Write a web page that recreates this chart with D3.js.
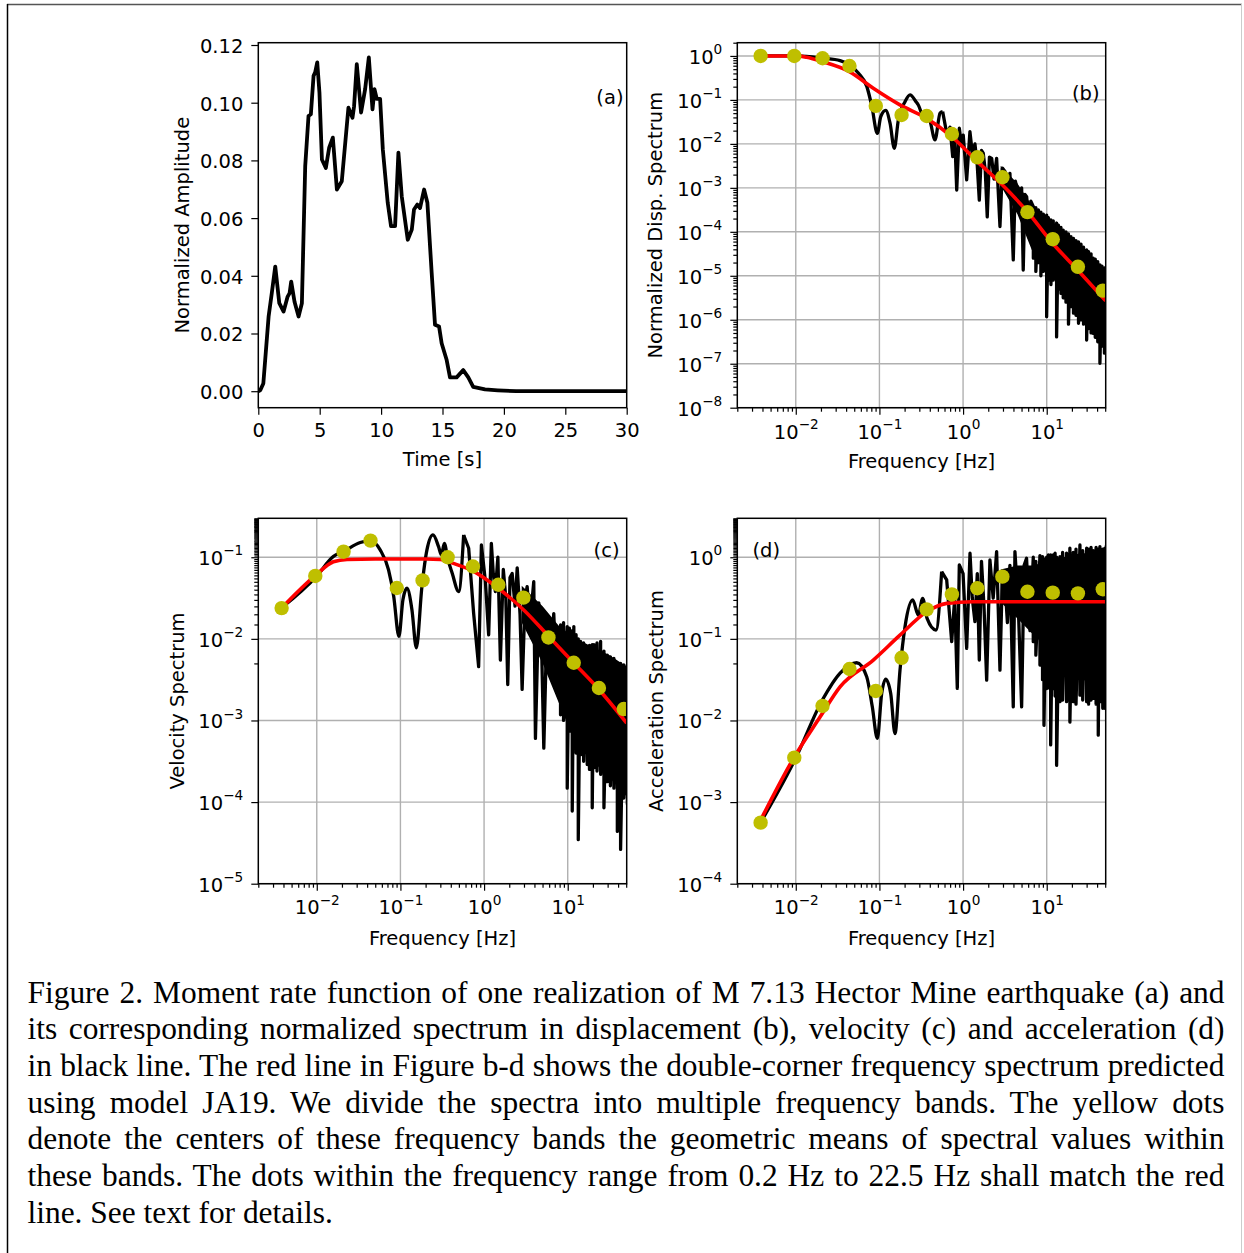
<!DOCTYPE html>
<html><head><meta charset="utf-8">
<script src="https://cdn.jsdelivr.net/npm/d3@7/dist/d3.min.js"></script>
<style>
html,body{margin:0;padding:0;background:#fff;}
#wrap{position:relative;width:1244px;height:1253px;overflow:hidden;background:#fff;}
#chart{position:absolute;left:0;top:0;}
svg text{font-family:"DejaVu Sans",sans-serif;font-size:19.5px;fill:#000;}
#caption{position:absolute;left:27.5px;width:1197px;font-family:"Liberation Serif","Times New Roman",serif;font-size:32px;line-height:36.7px;color:#000;}
#caption .ln{text-align:justify;text-align-last:justify;}
#caption .ln.last{text-align-last:left;}
</style></head><body>
<div id="wrap"><svg id="chart" width="1244" height="1253"></svg><div id="caption"></div></div>
<script>
// ================= DATA =================
// (a) moment rate function
const timeS = [0,0.16,0.41,0.84,1.1,1.38,1.71,2.06,2.39,2.55,2.68,2.95,3.28,3.55,3.82,4.09,4.28,4.5,4.63,4.8,4.98,5.18,5.5,5.77,6.07,6.4,6.8,7.34,7.67,7.8,8.02,8.37,8.7,9.0,9.3,9.46,9.65,9.92,10.14,10.54,10.81,11.14,11.41,11.68,12.17,12.5,12.68,12.95,13.17,13.5,13.77,14.12,14.39,14.72,14.93,15.34,15.61,16.15,16.69,17.1,17.5,18.46,19.5,21,30];
const momentRate = [0,0.0003,0.0027,0.0259,0.034,0.0432,0.0305,0.0276,0.0328,0.034,0.038,0.031,0.0259,0.0305,0.078,0.0954,0.096,0.1093,0.1105,0.114,0.1035,0.0803,0.0774,0.0844,0.0879,0.0699,0.0728,0.0983,0.0948,0.0988,0.1134,0.0966,0.1047,0.1157,0.0977,0.1047,0.1013,0.1013,0.0838,0.0653,0.0572,0.0572,0.0827,0.0676,0.0525,0.056,0.063,0.0647,0.0635,0.0699,0.0653,0.0409,0.023,0.0224,0.0166,0.0108,0.0048,0.0048,0.0073,0.0048,0.0015,0.0006,0.0003,0,0];
const timeTicks = [0,5,10,15,20,25,30];
const ampTicks = [0,0.02,0.04,0.06,0.08,0.10,0.12];

// log-axis major tick exponents
const freqTickExp = [-2,-1,0,1];
const dispTickExp = [-8,-7,-6,-5,-4,-3,-2,-1,0];
const velTickExp = [-5,-4,-3,-2,-1];
const accTickExp = [-4,-3,-2,-1,0];

// black spectra, read as [log10 f, log10 amplitude]
const dispSmoothLog = [[-2.42,0],[-2.2,0],[-2.0,0],[-1.87,-0.01],[-1.68,-0.05],[-1.47,-0.107],[-1.36,-0.2],[-1.25,-0.395],[-1.15,-0.698],[-1.09,-1.15],[-1.025,-1.76],[-0.984,-1.38],[-0.925,-1.24],[-0.873,-1.53],[-0.822,-2.10],[-0.774,-1.456],[-0.694,-1.04],[-0.634,-0.887],[-0.563,-1.04],[-0.535,-1.115],[-0.475,-1.38],[-0.43,-1.40],[-0.395,-1.49],[-0.336,-1.91],[-0.275,-1.30],[-0.244,-1.267]];
const dispRoughLog = [[-0.244,-1.267],[-0.196,-1.76],[-0.156,-1.62],[-0.124,-2.29],[-0.10,-1.8],[-0.076,-3.05],[-0.045,-1.645],[-0.02,-2.0],[0.002,-1.80],[0.043,-2.82],[0.082,-1.72],[0.11,-2.2],[0.142,-2.0],[0.17,-2.5],[0.194,-3.28],[0.22,-2.15],[0.241,-2.21],[0.265,-2.6],[0.289,-3.66],[0.315,-2.3],[0.342,-2.33],[0.37,-2.8],[0.401,-2.33],[0.441,-3.88],[0.47,-2.55],[0.501,-2.63],[0.53,-3.1],[0.56,-2.67],[0.6,-4.64],[0.625,-2.85],[0.64,-2.97],[0.68,-3.5],[0.7,-3.0],[0.719,-4.87],[0.74,-3.15],[0.76,-3.2],[0.79,-3.9],[0.81,-3.3]];
const dispDenseLog = [[0.84,-3.43,-4.6],[0.87,-3.45,-4.9],[0.9,-3.5,-4.7],[0.93,-3.55,-5.0],[0.96,-3.6,-4.9],[0.999,-3.62,-5.93],[1.02,-3.68,-5.1],[1.05,-3.73,-5.2],[1.078,-3.75,-5.1],[1.118,-3.8,-6.39],[1.14,-3.85,-5.3],[1.17,-3.9,-5.4],[1.197,-3.96,-5.5],[1.23,-4.0,-5.6],[1.26,-4.05,-6.1],[1.29,-4.11,-5.7],[1.32,-4.15,-5.85],[1.35,-4.2,-5.9],[1.38,-4.23,-6.08],[1.41,-4.28,-6.0],[1.44,-4.35,-6.1],[1.477,-4.41,-6.46],[1.5,-4.45,-6.2],[1.53,-4.5,-6.3],[1.556,-4.6,-6.31],[1.58,-4.62,-6.4],[1.61,-4.68,-6.5],[1.636,-4.75,-6.99],[1.66,-4.78,-6.6],[1.69,-4.82,-6.76],[1.71,-4.85,-6.6]];
const dispBandLog = [[0.45,-2.5,-2.95],[0.65,-2.9,-3.6],[0.84,-3.45,-4.5],[1.0,-3.7,-4.9],[1.2,-4.0,-5.3],[1.4,-4.3,-5.8],[1.55,-4.6,-6.1],[1.72,-4.9,-6.4]];

const velSmoothLog = [[-2.42,-1.62],[-2.0,-1.23],[-1.8,-0.99],[-1.68,-0.93],[-1.48,-0.82],[-1.36,-0.797],[-1.242,-0.91],[-1.142,-1.155],[-1.08,-1.48],[-1.018,-1.97],[-0.97,-1.52],[-0.922,-1.38],[-0.862,-1.645],[-0.81,-2.11],[-0.743,-1.36],[-0.683,-0.91],[-0.611,-0.727],[-0.544,-0.87],[-0.51,-0.972],[-0.475,-0.83],[-0.436,-1.01],[-0.38,-1.2],[-0.304,-1.42],[-0.244,-0.727]];
const velRoughLog = [[-0.244,-0.727],[-0.184,-0.89],[-0.125,-1.685],[-0.065,-2.34],[-0.032,-0.85],[0.016,-1.3],[0.055,-1.95],[0.087,-0.83],[0.11,-1.2],[0.135,-1.42],[0.165,-1.0],[0.195,-2.26],[0.23,-1.15],[0.26,-1.5],[0.283,-2.56],[0.31,-1.25],[0.336,-1.2],[0.37,-1.6],[0.396,-1.13],[0.43,-1.7],[0.455,-2.62],[0.49,-1.5],[0.515,-1.36],[0.55,-1.8],[0.594,-1.3],[0.614,-3.22],[0.654,-1.56],[0.69,-2.2],[0.714,-3.34],[0.754,-1.71],[0.79,-2.4],[0.833,-1.69],[0.87,-2.6]];
const velDenseLog = [[0.914,-1.83,-2.93],[0.95,-1.8,-3.0],[0.994,-1.85,-3.83],[1.02,-1.87,-3.13],[1.054,-1.9,-4.11],[1.073,-1.85,-3.34],[1.1,-1.95,-3.4],[1.126,-2.0,-4.46],[1.153,-2.03,-3.42],[1.19,-2.05,-3.5],[1.233,-2.11,-3.54],[1.26,-2.08,-3.6],[1.293,-2.07,-4.07],[1.313,-2.07,-3.58],[1.35,-2.05,-3.62],[1.393,-2.03,-3.66],[1.433,-2.15,-4.07],[1.473,-2.2,-3.75],[1.51,-2.22,-3.8],[1.552,-2.24,-3.83],[1.593,-2.3,-4.36],[1.632,-2.3,-4.58],[1.67,-2.32,-3.95],[1.713,-2.32,-4.03]];
const velBandLog = [[0.45,-1.35,-1.8],[0.7,-1.6,-2.3],[0.9,-1.85,-2.8],[1.1,-2.0,-3.3],[1.3,-2.1,-3.5],[1.5,-2.2,-3.7],[1.72,-2.35,-3.95]];

const accSmoothLog = [[-2.42,-3.25],[-2.0,-2.46],[-1.682,-1.75],[-1.47,-1.42],[-1.271,-1.293],[-1.152,-1.465],[-1.085,-1.833],[-1.025,-2.22],[-0.973,-1.67],[-0.925,-1.493],[-0.865,-1.67],[-0.814,-2.16],[-0.754,-1.383],[-0.694,-0.851],[-0.602,-0.524],[-0.535,-0.708],[-0.483,-0.503],[-0.43,-0.75],[-0.324,-0.892],[-0.256,-0.177]];
const accRoughLog = [[-0.256,-0.177],[-0.196,-0.278],[-0.136,-1.035],[-0.1,-0.5],[-0.069,-1.607],[-0.045,-0.094],[0.0,-0.2],[0.043,-1.117],[0.083,0.049],[0.11,-0.5],[0.142,-0.79],[0.17,-0.2],[0.194,-1.26],[0.22,-0.05],[0.25,-0.6],[0.282,-1.506],[0.321,-0.033],[0.36,-0.5],[0.401,0.069],[0.441,-1.383],[0.47,-0.2],[0.5,-0.3],[0.53,-0.8],[0.56,-0.1],[0.6,-1.833],[0.62,0.069],[0.66,-0.6],[0.7,-1.833],[0.73,-0.1],[0.759,-0.012],[0.8,-0.9]];
const accDenseLog = [[0.839,0.0,-1.035],[0.87,-0.05,-1.2],[0.919,0.02,-1.321],[0.95,0.008,-1.5],[0.967,-0.02,-2.06],[0.999,0.0,-1.608],[1.02,0.03,-1.6],[1.047,0.028,-2.3],[1.078,0.028,-1.608],[1.1,0.05,-1.7],[1.118,0.0,-2.55],[1.158,0.008,-1.77],[1.19,0.06,-1.75],[1.237,0.05,-1.77],[1.277,0.11,-2.02],[1.317,0.06,-1.77],[1.35,0.1,-1.8],[1.397,0.151,-1.69],[1.43,0.08,-1.75],[1.477,0.11,-1.77],[1.5,0.1,-1.8],[1.53,0.12,-1.75],[1.556,0.08,-1.73],[1.59,0.12,-1.8],[1.616,0.1,-2.18],[1.636,0.13,-1.77],[1.67,0.1,-1.85],[1.696,0.11,-1.85],[1.713,0.14,-1.8]];
const accBandLog = [[0.45,-0.15,-0.55],[0.65,-0.1,-0.75],[0.84,-0.1,-0.95],[1.0,-0.05,-1.1],[1.2,0.0,-1.4],[1.4,0.05,-1.5],[1.72,0.05,-1.55]];

// red model lines [f (Hz), amplitude]
const dispModel = [[0.0038,1.0],[0.0095,1.0],[0.011,0.99],[0.0135,0.93],[0.0208,0.74],[0.0437,0.44],[0.0845,0.184],[0.176,0.077],[0.367,0.038],[0.731,0.0146],[1.48,0.004],[2.94,0.00117],[5.85,2.9e-4],[11.75,5.5e-5],[23.4,1.36e-5],[50.7,2.7e-6]];
const velModel = [[0.0038,0.0238],[0.0095,0.059],[0.0158,0.088],[0.023,0.094],[0.05,0.095],[0.1,0.095],[0.2,0.095],[0.3,0.094],[0.43,0.084],[0.75,0.067],[1.3,0.046],[2.98,0.0226],[5.94,0.0107],[11.75,0.0051],[23.6,0.0024],[50.7,9.3e-4]];
const accModel = [[0.0038,6e-4],[0.0095,0.0035],[0.0195,0.011],[0.034,0.026],[0.0845,0.055],[0.176,0.111],[0.367,0.215],[0.637,0.272],[1.3,0.285],[50.7,0.285]];

// yellow band-centre dots
const dotFreq = [0.0038,0.0096,0.0209,0.0439,0.0905,0.184,0.367,0.735,1.48,2.95,5.88,11.8,23.6,46.8];
const dispDots = [1.0,1.0,0.887,0.59,0.073,0.0455,0.0431,0.0168,0.00495,0.00174,2.8e-4,6.8e-5,1.6e-5,4.6e-6];
const velDots = [0.0238,0.059,0.117,0.16,0.042,0.052,0.1,0.077,0.046,0.032,0.0104,0.0051,0.0025,0.00138];
const accDots = [5.6e-4,0.0035,0.0151,0.0427,0.023,0.0586,0.23,0.35,0.417,0.578,0.378,0.368,0.361,0.405];

const captionLines = [
 "Figure 2. Moment rate function of one realization of M 7.13 Hector Mine earthquake (a) and",
 "its corresponding normalized spectrum in displacement (b), velocity (c) and acceleration (d)",
 "in black line. The red line in Figure b-d shows the double-corner frequency spectrum predicted",
 "using model JA19. We divide the spectra into multiple frequency bands. The yellow dots",
 "denote the centers of these frequency bands the geometric means of spectral values within",
 "these bands. The dots within the frequency range from 0.2 Hz to 22.5 Hz shall match the red",
 "line. See text for details."
];

// ================= DRAWING =================
const W = 1244, H = 1253, FS = 19.5;
const svg = d3.select('#chart');
svg.append('rect').attr('width', W).attr('height', H).attr('fill', '#fff');
// outer frame
svg.append('line').attr('x1', 7).attr('x2', 1242).attr('y1', 4.5).attr('y2', 4.5).attr('stroke', '#555').attr('stroke-width', 1.5);
svg.append('line').attr('x1', 7.5).attr('x2', 7.5).attr('y1', 4).attr('y2', H).attr('stroke', '#000').attr('stroke-width', 1.5);
svg.append('line').attr('x1', 1241.5).attr('x2', 1241.5).attr('y1', 4).attr('y2', H).attr('stroke', '#ccc').attr('stroke-width', 1);

const PA = {x0: 258.3, x1: 626.7, y0: 42.7, y1: 407.7};
const PB = {x0: 737.3, x1: 1105.7, y0: 42.7, y1: 407.7};
const PC = {x0: 258.3, x1: 626.7, y0: 518.3, y1: 883.7};
const PD = {x0: 737.3, x1: 1105.7, y0: 518.3, y1: 883.7};

const toLin = d => [Math.pow(10, d[0]), Math.pow(10, d[1])];

function supLabel(t, e) {
  t.text(null);
  t.append('tspan').text('10');
  t.append('tspan').attr('font-size', (FS * 0.7).toFixed(2)).attr('dy', (-0.49 * FS).toFixed(2))
    .text(e < 0 ? '\u2212' + (-e) : String(e));
}

function styleTicks(g) {
  g.select('.domain').remove();
  g.selectAll('.tick line').attr('stroke', '#000').attr('stroke-width', 1.2);
}

function axes(P, x, y, o) {
  const gx = svg.append('g').attr('transform', `translate(0,${P.y1})`)
    .call(d3.axisBottom(x).tickValues(o.xVals).tickSize(7).tickFormat(() => ''));
  styleTicks(gx);
  gx.selectAll('.tick text').attr('dy', null).attr('y', o.xBase).attr('text-anchor', 'middle')
    .each(function (d) { o.xLab(d3.select(this), d); });
  if (o.xMinor) {
    const gm = svg.append('g').attr('transform', `translate(0,${P.y1})`)
      .call(d3.axisBottom(x).tickValues(o.xMinor).tickSize(4).tickFormat(() => ''));
    styleTicks(gm); gm.selectAll('text').remove();
  }
  const gy = svg.append('g').attr('transform', `translate(${P.x0},0)`)
    .call(d3.axisLeft(y).tickValues(o.yVals).tickSize(7).tickPadding(8).tickFormat(() => ''));
  styleTicks(gy);
  gy.selectAll('.tick text').attr('dy', o.yDy).attr('text-anchor', 'end')
    .each(function (d) { o.yLab(d3.select(this), d); });
  if (o.yMinor) {
    const gm = svg.append('g').attr('transform', `translate(${P.x0},0)`)
      .call(d3.axisLeft(y).tickValues(o.yMinor).tickSize(4).tickFormat(() => ''));
    styleTicks(gm); gm.selectAll('text').remove();
  }
  svg.append('rect').attr('x', P.x0).attr('y', P.y0).attr('width', P.x1 - P.x0).attr('height', P.y1 - P.y0)
    .attr('fill', 'none').attr('stroke', '#000').attr('stroke-width', 1.5);
}

function clip(P, id) {
  svg.append('clipPath').attr('id', id).append('rect')
    .attr('x', P.x0).attr('y', P.y0).attr('width', P.x1 - P.x0).attr('height', P.y1 - P.y0);
  return svg.append('g').attr('clip-path', `url(#${id})`);
}

function minorOf(scale) {
  return scale.ticks(80).filter(v => Math.abs(Math.log10(v) - Math.round(Math.log10(v))) > 1e-6);
}

function yLabel(txt, x, yc) {
  svg.append('text').attr('transform', `translate(${x},${yc}) rotate(-90)`).attr('text-anchor', 'middle').text(txt);
}
function xLabel(txt, xc, yb) {
  svg.append('text').attr('x', xc).attr('y', yb).attr('text-anchor', 'middle').text(txt);
}

// ---------- panel (a) ----------
(function () {
  const P = PA;
  const x = d3.scaleLinear().domain([0, 30]).range([P.x0, P.x1]);
  const y = d3.scaleLinear().domain([-0.00572, 0.1208]).range([P.y1, P.y0]);
  const g = clip(P, 'clipA');
  const pts = timeS.map((t, i) => [t, momentRate[i]]);
  g.append('path').datum(pts).attr('fill', 'none').attr('stroke', '#000').attr('stroke-width', 3.8)
    .attr('stroke-linejoin', 'round').attr('d', d3.line().x(d => x(d[0])).y(d => y(d[1])));
  axes(P, x, y, {
    xVals: timeTicks, xBase: 29.3, xLab: (t, d) => t.text(String(d)),
    yVals: ampTicks, yDy: '0.38em', yLab: (t, d) => t.text(d.toFixed(2))
  });
  svg.append('text').attr('x', 623.5).attr('y', 104).attr('text-anchor', 'end').text('(a)');
  yLabel('Normalized Amplitude', 188.5, (P.y0 + P.y1) / 2);
  xLabel('Time [s]', (P.x0 + P.x1) / 2, 465.5);
})();

// ---------- log panels ----------
function logPanel(P, id, yDom, yExps, smoothLog, roughLog, denseLog, bandLog, model, dots, tag, ylab, ylabX, xlabY, xBase) {
  const x = d3.scaleLog().domain([0.002, 50.7]).range([P.x0, P.x1]);
  const y = d3.scaleLog().domain(yDom).range([P.y1, P.y0]);
  // grid
  const grid = svg.append('g').attr('stroke', '#b0b0b0').attr('stroke-width', 1.4);
  freqTickExp.forEach(e => grid.append('line').attr('x1', x(Math.pow(10, e))).attr('x2', x(Math.pow(10, e))).attr('y1', P.y0).attr('y2', P.y1));
  yExps.forEach(e => grid.append('line').attr('x1', P.x0).attr('x2', P.x1).attr('y1', y(Math.pow(10, e))).attr('y2', y(Math.pow(10, e))));

  const g = clip(P, id);
  // dense band fill
  const band = bandLog.map(r => [Math.pow(10, r[0]), Math.pow(10, r[1]), Math.pow(10, r[2])]);
  g.append('path').datum(band).attr('fill', '#000')
    .attr('d', d3.area().x(d => x(d[0])).y0(d => y(d[2])).y1(d => y(d[1])));
  // smooth black line
  g.append('path').datum(smoothLog.map(toLin)).attr('fill', 'none').attr('stroke', '#000').attr('stroke-width', 3.3)
    .attr('stroke-linejoin', 'round')
    .attr('d', d3.line().x(d => x(d[0])).y(d => y(d[1])).curve(d3.curveMonotoneX));
  // rough + dense black line
  const rough = roughLog.map(toLin);
  denseLog.forEach(r => { rough.push(toLin([r[0], r[1]])); rough.push(toLin([r[0], r[2]])); });
  g.append('path').datum(rough).attr('fill', 'none').attr('stroke', '#000').attr('stroke-width', 3.3)
    .attr('stroke-linejoin', 'round')
    .attr('d', d3.line().x(d => x(d[0])).y(d => y(d[1])));
  // red model
  g.append('path').datum(model).attr('fill', 'none').attr('stroke', '#ff0000').attr('stroke-width', 3.6)
    .attr('d', d3.line().x(d => x(d[0])).y(d => y(d[1])).curve(d3.curveMonotoneX));
  // dots
  g.selectAll('circle').data(dotFreq.map((f, i) => [f, dots[i]])).join('circle')
    .attr('cx', d => x(d[0])).attr('cy', d => y(d[1])).attr('r', 7.2).attr('fill', '#bfbf00');

  axes(P, x, y, {
    xVals: freqTickExp.map(e => Math.pow(10, e)), xBase: xBase,
    xLab: (t, d) => supLabel(t, Math.round(Math.log10(d))),
    xMinor: minorOf(x),
    yVals: yExps.map(e => Math.pow(10, e)), yDy: '7.3px',
    yLab: (t, d) => supLabel(t, Math.round(Math.log10(d))),
    yMinor: minorOf(y)
  });
  tag();
  yLabel(ylab, ylabX, (P.y0 + P.y1) / 2);
  xLabel('Frequency [Hz]', (P.x0 + P.x1) / 2, xlabY);
}

logPanel(PB, 'clipB', [1e-8, 2.0], dispTickExp, dispSmoothLog, dispRoughLog, dispDenseLog, dispBandLog, dispModel, dispDots,
  () => svg.append('text').attr('x', 1099.5).attr('y', 100).attr('text-anchor', 'end').text('(b)'),
  'Normalized Disp. Spectrum', 662, 468.3, 31.2);
logPanel(PC, 'clipC', [1e-5, 0.3], velTickExp, velSmoothLog, velRoughLog, velDenseLog, velBandLog, velModel, velDots,
  () => svg.append('text').attr('x', 619.5).attr('y', 557).attr('text-anchor', 'end').text('(c)'),
  'Velocity Spectrum', 184, 944.5, 30.6);
logPanel(PD, 'clipD', [1e-4, 3.0], accTickExp, accSmoothLog, accRoughLog, accDenseLog, accBandLog, accModel, accDots,
  () => svg.append('text').attr('x', 752.5).attr('y', 557).attr('text-anchor', 'start').text('(d)'),
  'Acceleration Spectrum', 663, 944.5, 30.6);

// ---------- caption ----------
(function () {
  const cap = d3.select('#caption');
  const meas = document.createElement('span');
  meas.style.cssText = 'position:absolute;visibility:hidden;white-space:nowrap;font-family:"Liberation Serif","Times New Roman",serif;font-size:32px;';
  document.body.appendChild(meas);
  let maxW = 0;
  captionLines.forEach(t => { meas.textContent = t; maxW = Math.max(maxW, meas.getBoundingClientRect().width); });
  meas.remove();
  let f = 32;
  if (maxW > 1192) f = 32 * 1192 / maxW;
  const LH = 36.7;
  cap.style('font-size', f + 'px');
  const top = 1003.5 - ((LH - 1.107 * f) / 2 + 0.891 * f);
  cap.style('top', top + 'px');
  captionLines.forEach((t, i) => cap.append('div').attr('class', 'ln' + (i === captionLines.length - 1 ? ' last' : '')).text(t));
})();
</script></body></html>
